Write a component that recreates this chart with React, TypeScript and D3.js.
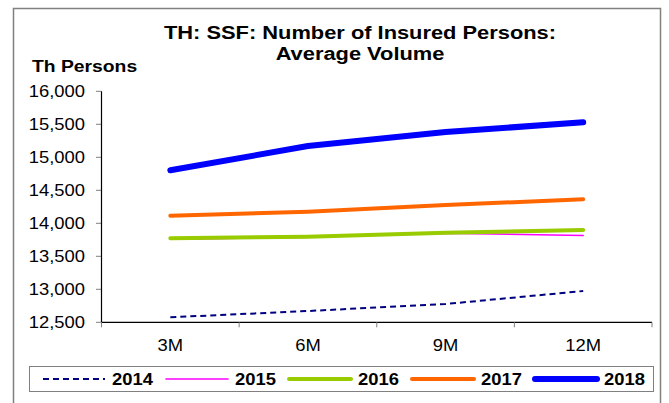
import * as React from "react";
import * as d3 from "d3";

const periods = ["3M", "6M", "9M", "12M"];
const years = ["2014", "2015", "2016", "2017", "2018"];
const values2014 = [12576, 12671, 12777, 12974];
const values2015 = [13760, 13790, 13850, 13815];
const values2016 = [13773, 13797, 13858, 13898];
const values2017 = [14115, 14176, 14277, 14364];
const values2018 = [14803, 15171, 15383, 15530];
const yTicks = [12500, 13000, 13500, 14000, 14500, 15000, 15500, 16000];

const styles = {
  "2014": { color: "#000080", width: 2, dash: "6,4" },
  "2015": { color: "#FF00FF", width: 1.6, dash: null },
  "2016": { color: "#99CC00", width: 4, dash: null },
  "2017": { color: "#FF6600", width: 4, dash: null },
  "2018": { color: "#0000FF", width: 6, dash: null },
};

const font = "'Liberation Sans', Arial, sans-serif";
const sx = 1.15;

function Txt(props: any) {
  const { x, y, anchor, size, bold, children } = props;
  return (
    <g transform={`translate(${x}, ${y}) scale(${sx}, 1)`}>
      <text
        x={0}
        y={0}
        textAnchor={anchor || "start"}
        fontFamily={font}
        fontSize={size}
        fontWeight={bold ? "bold" : "normal"}
        fill="#000"
      >
        {children}
      </text>
    </g>
  );
}

function App() {
  const width = 669;
  const height = 403;
  const left = 101.5;
  const right = 652;
  const top = 91.3;
  const bottom = 322.3;

  const x = d3.scaleBand().domain(periods).range([left, right]).padding(0);
  const y = d3.scaleLinear().domain([12500, 16000]).range([bottom, top]);
  const cx = (p: string) => (x(p) || 0) + x.bandwidth() / 2;

  const series = [
    { year: "2014", values: values2014 },
    { year: "2015", values: values2015 },
    { year: "2016", values: values2016 },
    { year: "2017", values: values2017 },
    { year: "2018", values: values2018 },
  ];

  const line = d3
    .line<number>()
    .x((d, i) => cx(periods[i]))
    .y((d) => y(d));

  const legendX0 = 43;
  const legendStep = 123;
  const legendY = 379;

  return (
    <div style={{ position: "absolute", left: 0, top: 0 }}>
      <svg width={width} height={height} style={{ display: "block" }}>
        <rect x={0} y={0} width={width} height={height} fill="#fff" />
        <rect
          x={13.5}
          y={8.5}
          width={647}
          height={420}
          fill="#fff"
          stroke="#808080"
          strokeWidth={1.5}
        />

        <Txt x={360} y={39} anchor="middle" size={19} bold>
          TH: SSF: Number of Insured Persons:
        </Txt>
        <Txt x={360} y={60} anchor="middle" size={19} bold>
          Average Volume
        </Txt>
        <Txt x={32} y={72} size={16.8} bold>
          Th Persons
        </Txt>

        {/* y axis */}
        {yTicks.map((t) => (
          <g key={t} transform={`translate(0, ${y(t)})`}>
            <line x1={96} x2={left} y1={0} y2={0} stroke="#808080" />
            <Txt x={85} y={6} anchor="end" size={16}>
              {d3.format(",")(t)}
            </Txt>
          </g>
        ))}
        <line x1={left} x2={left} y1={top} y2={bottom} stroke="#000" strokeWidth={1.2} />

        {/* x axis */}
        <line x1={left} x2={right} y1={bottom} y2={bottom} stroke="#000" strokeWidth={1.2} />
        {[...periods.map((p) => x(p) || 0), right].map((t, i) => (
          <line key={i} x1={t} x2={t} y1={bottom} y2={bottom + 5} stroke="#808080" />
        ))}
        {periods.map((p) => (
          <Txt key={p} x={cx(p)} y={351} anchor="middle" size={16}>
            {p}
          </Txt>
        ))}

        {/* series */}
        {series.map((s) => {
          const st = (styles as any)[s.year];
          return (
            <path
              key={s.year}
              d={line(s.values) || ""}
              fill="none"
              stroke={st.color}
              strokeWidth={st.width}
              strokeDasharray={st.dash || undefined}
              strokeLinecap={st.dash ? "butt" : "round"}
              strokeLinejoin="round"
            />
          );
        })}

        {/* legend */}
        <rect x={29.5} y={366.5} width={624} height={25} fill="#fff" stroke="#808080" />
        {years.map((yr, i) => {
          const st = (styles as any)[yr];
          const lx = legendX0 + i * legendStep;
          return (
            <g key={yr}>
              <line
                x1={lx}
                x2={lx + 62}
                y1={legendY}
                y2={legendY}
                stroke={st.color}
                strokeWidth={st.width}
                strokeDasharray={st.dash || undefined}
                strokeLinecap={st.dash ? "butt" : "round"}
              />
              <Txt x={lx + 69} y={legendY + 6} size={16} bold>
                {yr}
              </Txt>
            </g>
          );
        })}
      </svg>
    </div>
  );
}

export default App;
